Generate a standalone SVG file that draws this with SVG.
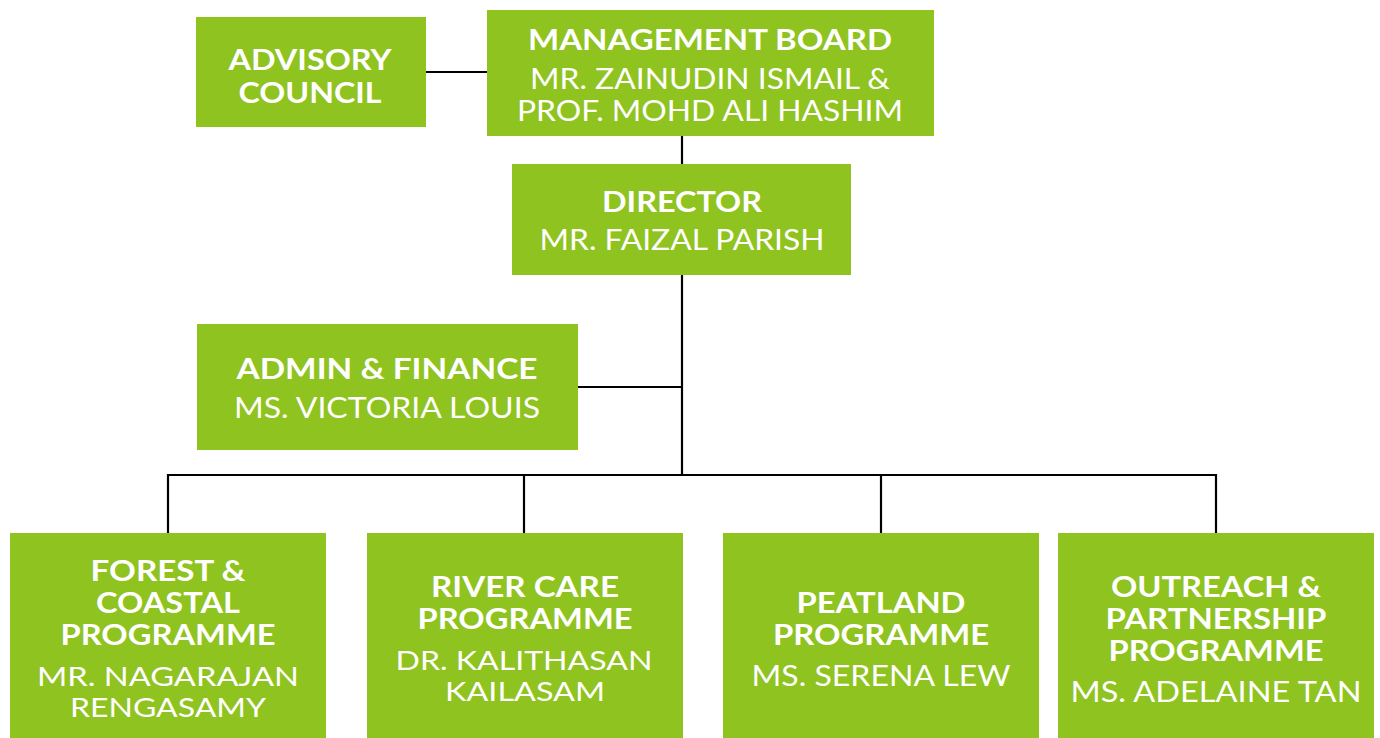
<svg xmlns="http://www.w3.org/2000/svg" width="1380" height="738" viewBox="0 0 1380 738">
<style>
.box{fill:#8fc31f}
.t{font-family:Lato,"Open Sans","Liberation Sans",sans-serif;fill:#fff;text-anchor:middle;font-size:29px}
.b{font-weight:700}
.n{font-weight:400}
.s{font-size:27.5px}
.c{stroke:#000;stroke-width:2.2;fill:none}
</style>
<rect width="1380" height="738" fill="#fff"/>
<g id="connectors">
<path class="c" d="M426 72H487"/>
<path class="c" d="M682 136V164"/>
<path class="c" d="M682 275V475"/>
<path class="c" d="M578 387H682"/>
<path class="c" d="M168 533V475H1216V533"/>
<path class="c" d="M524 475V533"/>
<path class="c" d="M881 475V533"/>
</g>
<g id="advisory">
<rect class="box" x="196" y="17" width="230" height="110"/>
<text class="t b" x="310" y="70" textLength="163" lengthAdjust="spacingAndGlyphs">ADVISORY</text>
<text class="t b" x="310" y="103" textLength="143" lengthAdjust="spacingAndGlyphs">COUNCIL</text>
</g>
<g id="management">
<rect class="box" x="487" y="10" width="447" height="126"/>
<text class="t b" x="710" y="50" textLength="364" lengthAdjust="spacingAndGlyphs">MANAGEMENT BOARD</text>
<text class="t n" x="710" y="89" textLength="360" lengthAdjust="spacingAndGlyphs">MR. ZAINUDIN ISMAIL &amp;</text>
<text class="t n" x="710" y="121" textLength="386" lengthAdjust="spacingAndGlyphs">PROF. MOHD ALI HASHIM</text>
</g>
<g id="director">
<rect class="box" x="512" y="164" width="339" height="111"/>
<text class="t b" x="682" y="212" textLength="160" lengthAdjust="spacingAndGlyphs">DIRECTOR</text>
<text class="t n" x="682" y="250" textLength="285" lengthAdjust="spacingAndGlyphs">MR. FAIZAL PARISH</text>
</g>
<g id="admin">
<rect class="box" x="197" y="324" width="381" height="126"/>
<text class="t b" x="387" y="379" textLength="301" lengthAdjust="spacingAndGlyphs">ADMIN &amp; FINANCE</text>
<text class="t n" x="387" y="418" textLength="306" lengthAdjust="spacingAndGlyphs">MS. VICTORIA LOUIS</text>
</g>
<g id="forest">
<rect class="box" x="10" y="533" width="316" height="205"/>
<text class="t b" x="168" y="581" textLength="155" lengthAdjust="spacingAndGlyphs">FOREST &amp;</text>
<text class="t b" x="168" y="613" textLength="144" lengthAdjust="spacingAndGlyphs">COASTAL</text>
<text class="t b" x="168" y="645" textLength="215" lengthAdjust="spacingAndGlyphs">PROGRAMME</text>
<text class="t n s" x="168" y="686" textLength="262" lengthAdjust="spacingAndGlyphs">MR. NAGARAJAN</text>
<text class="t n s" x="168" y="717" textLength="196" lengthAdjust="spacingAndGlyphs">RENGASAMY</text>
</g>
<g id="river">
<rect class="box" x="367" y="533" width="316" height="205"/>
<text class="t b" x="525" y="597" textLength="188" lengthAdjust="spacingAndGlyphs">RIVER CARE</text>
<text class="t b" x="525" y="629" textLength="215" lengthAdjust="spacingAndGlyphs">PROGRAMME</text>
<text class="t n s" x="524" y="670" textLength="257" lengthAdjust="spacingAndGlyphs">DR. KALITHASAN</text>
<text class="t n s" x="525" y="701" textLength="160" lengthAdjust="spacingAndGlyphs">KAILASAM</text>
</g>
<g id="peatland">
<rect class="box" x="723" y="533" width="316" height="205"/>
<text class="t b" x="881" y="613" textLength="169" lengthAdjust="spacingAndGlyphs">PEATLAND</text>
<text class="t b" x="881" y="645" textLength="216" lengthAdjust="spacingAndGlyphs">PROGRAMME</text>
<text class="t n" x="881" y="686" textLength="259" lengthAdjust="spacingAndGlyphs">MS. SERENA LEW</text>
</g>
<g id="outreach">
<rect class="box" x="1058" y="533" width="316" height="205"/>
<text class="t b" x="1216" y="597" textLength="210" lengthAdjust="spacingAndGlyphs">OUTREACH &amp;</text>
<text class="t b" x="1216" y="629" textLength="221" lengthAdjust="spacingAndGlyphs">PARTNERSHIP</text>
<text class="t b" x="1216" y="661" textLength="215" lengthAdjust="spacingAndGlyphs">PROGRAMME</text>
<text class="t n" x="1216" y="702" textLength="291" lengthAdjust="spacingAndGlyphs">MS. ADELAINE TAN</text>
</g>
</svg>
